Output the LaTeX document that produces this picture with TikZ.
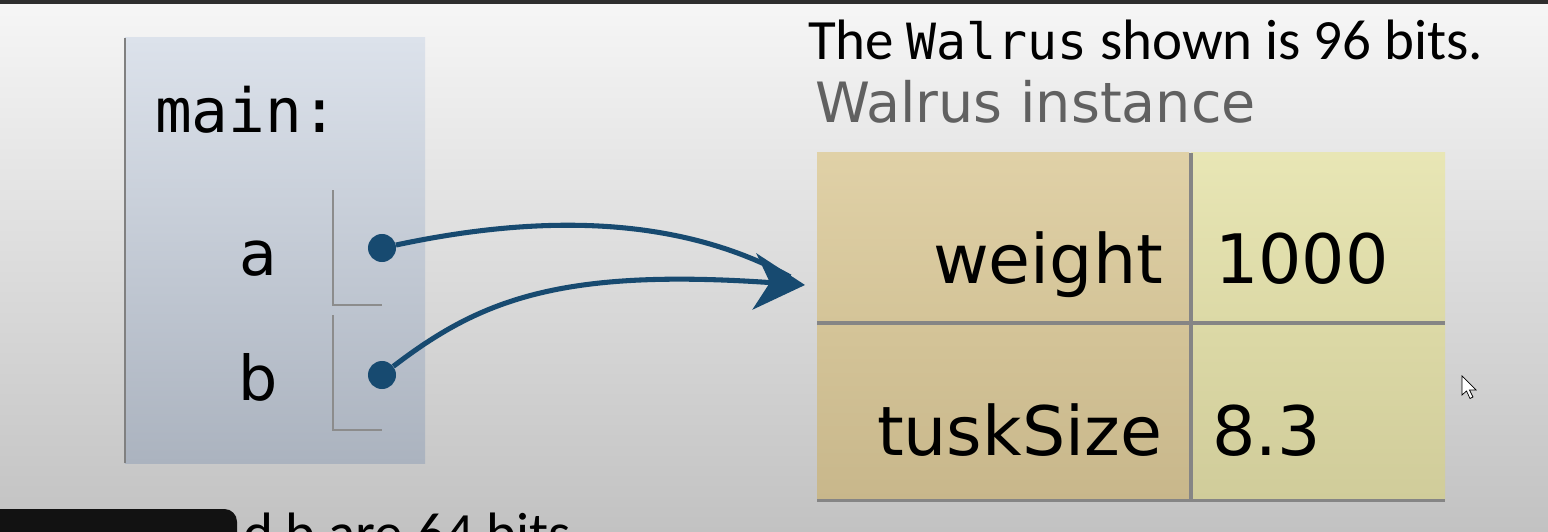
\documentclass[tikz,border=0pt]{standalone}
\usepackage{fontspec}
\setmainfont{Carlito}
\newfontfamily\verdfont{DejaVu Sans}
\newfontfamily\codefont{DejaVu Sans Mono}
\usetikzlibrary{calc, positioning, arrows.meta}

\definecolor{ptblue}{HTML}{174A70}
\definecolor{bgtop}{HTML}{F6F6F6}
\definecolor{bgbot}{HTML}{C2C2C2}
\definecolor{frametop}{HTML}{DCE2EB}
\definecolor{framebot}{HTML}{ABB3BF}
\definecolor{keytop}{HTML}{E0D1A7}
\definecolor{keymid}{HTML}{D4C498}
\definecolor{keybot}{HTML}{C8B78B}
\definecolor{valtop}{HTML}{E8E6B5}
\definecolor{valmid}{HTML}{DCD9A6}
\definecolor{valbot}{HTML}{D0CC9A}

\begin{document}
\begin{tikzpicture}[x=0.025cm, y=-0.025cm,
    txt/.style={inner sep=0pt, outer sep=0pt},
    cell/.style={rectangle, inner sep=0pt, outer sep=0pt, anchor=north west},
    tabline/.style={draw=black!48, line width=2.2pt},
    ptr/.style={line width=3.6pt, color=ptblue}]

    \useasboundingbox (0,0) rectangle (1548,532);
    \clip (0,0) rectangle (1548,532);

    % slide background and the dark rule along the top
    \shade[top color=bgtop, bottom color=bgbot] (0,0) rectangle (1548,532);
    \fill[black!82] (0,0) rectangle (1548,4);

    % main: frame (left)
    \node[rectangle, inner sep=0pt, minimum width=7.5cm, minimum height=10.625cm,
          top color=frametop, bottom color=framebot] (frame) at (275,250.5) {};
    \draw[black!50, line width=1.4pt] (frame.north west) -- (frame.south west);
    \node[txt, anchor=base west] (mainlbl) at (155,133)
        {\codefont\fontsize{43.4}{50}\selectfont main:};

    % variables a and b: name, slot bracket, pointer dot
    \foreach \v/\y in {a/275, b/400} {
        \node[txt, anchor=base] (lbl-\v) at (258,\y) {\verdfont\fontsize{44}{50}\selectfont \v};
        \draw[black!45, line width=1.4pt] (333,\y-85) |- (382,\y+30);
    }
    \node[circle, fill=ptblue, inner sep=0pt, minimum size=0.7cm] (dotA) at (382,248) {};
    \node[circle, fill=ptblue, inner sep=0pt, minimum size=0.7cm] (dotB) at (382,375) {};

    % headings (right)
    \node[txt, anchor=base west] (title) at (808,60)
        {\fontsize{40.5}{48}\selectfont The {\codefont\fontsize{35.5}{42}\selectfont Walrus} shown is 96 bits.};
    \node[txt, anchor=base west, text=black!62] (instlbl) at (815,123)
        {\verdfont\fontsize{39.5}{46}\selectfont Walrus instance};

    % Walrus instance table: key column tan, value column pale yellow
    \node[cell, minimum width=9.3cm, minimum height=4.25cm,
          top color=keytop, bottom color=keymid] (wkey) at (817,153) {};
    \node[cell, minimum width=6.35cm, minimum height=4.25cm,
          top color=valtop, bottom color=valmid] (wval) at (1191,153) {};
    \node[cell, minimum width=9.3cm, minimum height=4.375cm,
          top color=keymid, bottom color=keybot] (tkey) at (817,325) {};
    \node[cell, minimum width=6.35cm, minimum height=4.375cm,
          top color=valmid, bottom color=valbot] (tval) at (1191,325) {};
    \draw[tabline] (wval.north west) -- (tval.south west);
    \draw[tabline] (wkey.south west) -- (wval.south east);
    \draw[tabline] (tkey.south west) -- (tval.south east);

    \node[txt, anchor=base east] (wname) at (1163,283) {\verdfont\fontsize{48.5}{56}\selectfont weight};
    \node[txt, anchor=base west] (wnum)  at (1215,283) {\verdfont\fontsize{48.5}{56}\selectfont 1000};
    \node[txt, anchor=base east] (tname) at (1162,455) {\verdfont\fontsize{48.5}{56}\selectfont tuskSize};
    \node[txt, anchor=base west] (tnum)  at (1212,455) {\verdfont\fontsize{48.5}{56}\selectfont 8.3};

    % references a and b both point at the instance (one shared head)
    \coordinate (inst) at (805,285);
    \draw[ptr, shorten >=12pt] (dotA) .. controls (560,210) and (690,222) .. (inst);
    \draw[ptr, -{Stealth[length=36pt, width=40pt, inset=11pt]}]
        (dotB) .. controls (480,300) and (560,268) .. (inst);

    % note at the bottom, partly hidden by the player bar
    \node[txt, anchor=base west] (note) at (243,552) {\fontsize{40.5}{48}\selectfont d b are 64 bits};
    \fill[black!93, rounded corners=9] (-30,509) rectangle (237,580);

    % mouse pointer
    \draw[black, fill=white, line width=0.5pt] (1462,376) -- (1462,395) -- (1466.5,391)
        -- (1470,398.5) -- (1473,397) -- (1469.5,390) -- (1476,390) -- cycle;
\end{tikzpicture}
\end{document}
